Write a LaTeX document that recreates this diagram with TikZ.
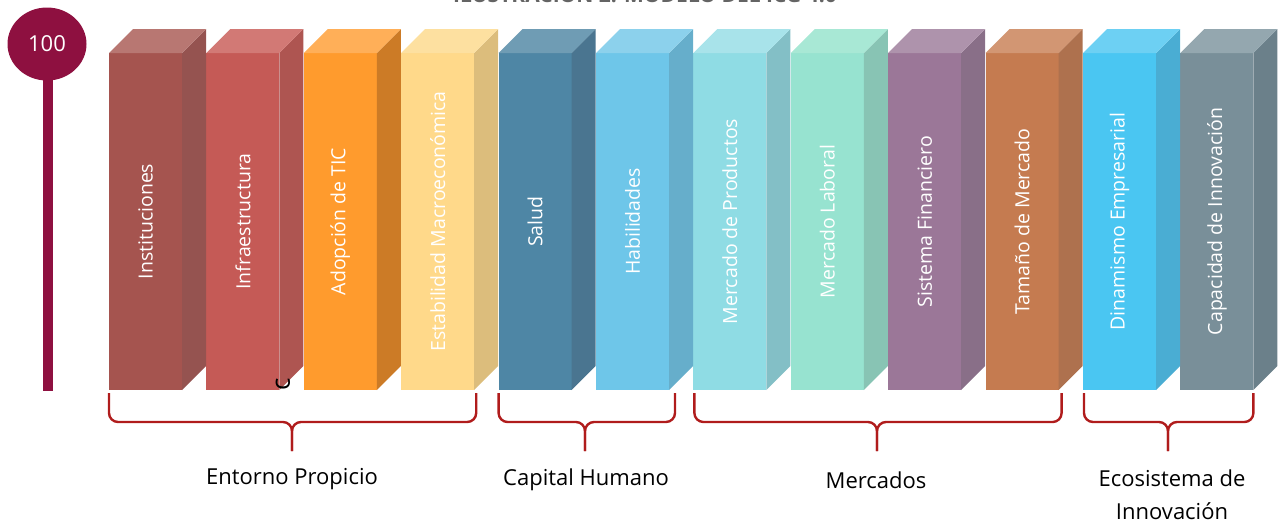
\documentclass[tikz,border=0pt]{standalone}
\usepackage{fontspec}
\setmainfont{Open Sans}
\usepackage{tikz}
\usetikzlibrary{
	positioning,
	shapes.geometric
}

\definecolor{vino}{HTML}{8E1040}
\definecolor{llaverojo}{HTML}{B01C1C}
\definecolor{titgris}{HTML}{646464}
% front / side / top of every pillar
\definecolor{Finst}{HTML}{A5544F}   \definecolor{Sinst}{HTML}{955350}   \definecolor{Tinst}{HTML}{B87772}
\definecolor{Finfra}{HTML}{C55A56}  \definecolor{Sinfra}{HTML}{AE5551}  \definecolor{Tinfra}{HTML}{D27975}
\definecolor{Ftic}{HTML}{FF9B2D}    \definecolor{Stic}{HTML}{CC7B26}    \definecolor{Ttic}{HTML}{FFAF58}
\definecolor{Fmacro}{HTML}{FFD98A}  \definecolor{Smacro}{HTML}{DCBD7C}  \definecolor{Tmacro}{HTML}{FDE0A0}
\definecolor{Fsalud}{HTML}{4E86A5}  \definecolor{Ssalud}{HTML}{4A7590}  \definecolor{Tsalud}{HTML}{6F9CB4}
\definecolor{Fhabil}{HTML}{6EC6E9}  \definecolor{Shabil}{HTML}{66AECB}  \definecolor{Thabil}{HTML}{8CD1EC}
\definecolor{Fprod}{HTML}{8FDCE4}   \definecolor{Sprod}{HTML}{83BFC6}   \definecolor{Tprod}{HTML}{A8E3EA}
\definecolor{Flabor}{HTML}{97E3D0}  \definecolor{Slabor}{HTML}{88C4B4}  \definecolor{Tlabor}{HTML}{A8E8D5}
\definecolor{Ffinan}{HTML}{9B7798}  \definecolor{Sfinan}{HTML}{896F88}  \definecolor{Tfinan}{HTML}{AE93AC}
\definecolor{Ftamano}{HTML}{C57B50} \definecolor{Stamano}{HTML}{AE714E} \definecolor{Ttamano}{HTML}{D29673}
\definecolor{Fdinam}{HTML}{4AC6F2}  \definecolor{Sdinam}{HTML}{4AADD3}  \definecolor{Tdinam}{HTML}{6DD0F3}
\definecolor{Finnov}{HTML}{798F99}  \definecolor{Sinnov}{HTML}{6B808A}  \definecolor{Tinnov}{HTML}{94A7AF}

\tikzset{
	pilar/.style={rectangle, inner sep=0pt, outer sep=0pt,
		minimum width=73pt, minimum height=337pt,
		label={[rotate=90, text=white, font=\fontsize{19.5}{23}\selectfont]center:#1}},
	grupo/.style={align=center, font=\fontsize{22}{33}\selectfont},
	llave/.style={draw=llaverojo, line width=2.4pt, rounded corners=9pt}
}

\begin{document}
\begin{tikzpicture}[x=1pt, y=-1pt, node distance=24.4pt]
		\useasboundingbox (0,0) rectangle (1285,523);
		\clip (0,0) rectangle (1285,523);

		\node [anchor=base, text=titgris, font=\fontsize{21}{25}\selectfont\bfseries]
			(titulo) at (645,2.5) {ILUSTRACIÓN 2: MODELO DEL ICG 4.0};

		% score marker
		\coordinate (base) at (48,391);
		\draw [vino, line width=10pt] (48,60) -- (base);
		\node [ellipse, fill=vino, minimum width=79pt, minimum height=73pt, inner sep=0pt,
			text=white, font=\fontsize{22}{26}\selectfont] (meta) at (47,44) {100};

		\draw
			node [pilar=Instituciones,              fill=Finst, anchor=north west] (inst) at (109,53) {}
			node [pilar=Infraestructura,            fill=Finfra,  right=of inst]   (infra)  {}
			node [pilar=Adopción de TIC,            fill=Ftic,    right=of infra]  (tic)    {}
			node [pilar=Estabilidad Macroeconómica, fill=Fmacro,  right=of tic]    (macro)  {}
			node [pilar=Salud,                      fill=Fsalud,  right=of macro]  (salud)  {}
			node [pilar=Habilidades,                fill=Fhabil,  right=of salud]  (habil)  {}
			node [pilar=Mercado de Productos,       fill=Fprod,   right=of habil]  (prod)   {}
			node [pilar=Mercado Laboral,            fill=Flabor,  right=of prod]   (labor)  {}
			node [pilar=Sistema Financiero,         fill=Ffinan,  right=of labor]  (finan)  {}
			node [pilar=Tamaño de Mercado,          fill=Ftamano, right=of finan]  (tamano) {}
			node [pilar=Dinamismo Empresarial,      fill=Fdinam,  right=of tamano] (dinam)  {}
			node [pilar=Capacidad de Innovación,    fill=Finnov,  right=of dinam]  (innov)  {}
		;

		\foreach \n in {inst,infra,tic,macro,salud,habil,prod,labor,finan,tamano,dinam,innov}{
			\fill [fill=S\n] (\n.north east) -- ++(24,-24) -- ++(0,337) -- (\n.south east) -- cycle;
			\fill [fill=T\n] (\n.north west) -- ++(24,-24) -- ++(73,0) -- (\n.north east) -- cycle;
		}

		\node [rotate=90, text=black, font=\fontsize{26}{30}\selectfont] (suelto) at (283,384) {c};

		% groups
		\node [grupo] (entorno)   at (292,479)  {Entorno Propicio};
		\node [grupo] (capital)   at (586,480)  {Capital Humano};
		\node [grupo] (mercados)  at (876,480)  {Mercados};
		\node [grupo] (ecosis)    at (1172,495) {Ecosistema de\\Innovación};

		\coordinate (entornotip)  at (292,451);
		\coordinate (capitaltip)  at (585,451);
		\coordinate (mercadostip) at (877,451);
		\coordinate (ecosistip)   at (1168,451);

		\draw [llave] ([yshift=-3pt]inst.south west)             -- ++(0,29) -| (entornotip);
		\draw [llave] ([xshift=2pt,yshift=-3pt]macro.south east)  -- ++(0,29) -| (entornotip);
		\draw [llave] ([yshift=-3pt]salud.south west)            -- ++(0,29) -| (capitaltip);
		\draw [llave] ([xshift=6pt,yshift=-3pt]habil.south east)  -- ++(0,29) -| (capitaltip);
		\draw [llave] ([xshift=1pt,yshift=-3pt]prod.south west)   -- ++(0,29) -| (mercadostip);
		\draw [llave] ([xshift=3pt,yshift=-3pt]tamano.south east) -- ++(0,29) -| (mercadostip);
		\draw [llave] ([xshift=1pt,yshift=-3pt]dinam.south west)  -- ++(0,29) -| (ecosistip);
		\draw [llave] ([yshift=-3pt]innov.south east)            -- ++(0,29) -| (ecosistip);
\end{tikzpicture}
\end{document}
